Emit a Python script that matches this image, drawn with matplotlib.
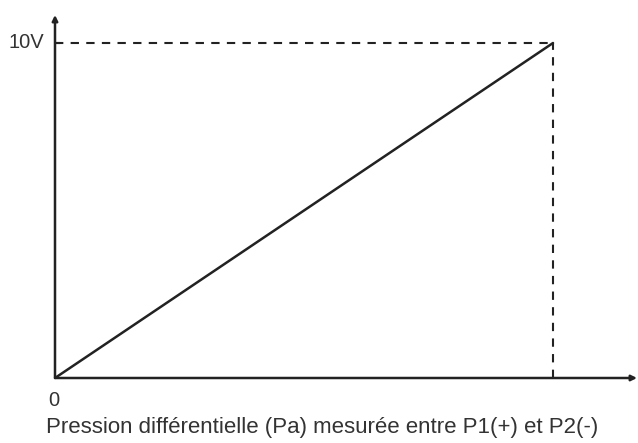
import matplotlib
matplotlib.use("Agg")
import matplotlib.pyplot as plt

# signal 0-10V proportional to the differential pressure
pressure = [0, 10]
voltage = [0, 10]
y_tick_label = "10V"
origin_label = "0"
x_label = "Pression différentielle (Pa) mesurée entre P1(+) et P2(-)"

plt.rcParams['font.family'] = ['Liberation Sans', 'DejaVu Sans']

fig = plt.figure(figsize=(6.38, 4.43), dpi=100)
# axes area in pixels: origin at (55, 378), arrows end at x=637, y=15
ax = fig.add_axes([55 / 638, (443 - 378) / 443, (637 - 55) / 638, (378 - 15) / 443])
x_max = 10 * (637 - 55) / (553 - 55)
y_max = 10 * (378 - 15) / (378 - 43)
ax.set_xlim(0, x_max)
ax.set_ylim(0, y_max)
ax.axis('off')

# axes with arrow heads
ax.annotate('', xy=(x_max, 0), xytext=(0, 0),
            arrowprops=dict(arrowstyle='-|>', color='#222222', lw=1.8,
                            mutation_scale=8, shrinkA=0, shrinkB=0),
            annotation_clip=False)
ax.annotate('', xy=(0, y_max), xytext=(0, 0),
            arrowprops=dict(arrowstyle='-|>', color='#222222', lw=1.8,
                            mutation_scale=8, shrinkA=0, shrinkB=0),
            annotation_clip=False)

# the linear response
ax.plot(pressure, voltage, color='#222222', lw=1.8, solid_capstyle='round')

# dashed guides to the full scale point
ax.plot([0, pressure[1]], [voltage[1], voltage[1]], color='#222222', lw=1.5,
        ls=(0, (4, 3.5)))
ax.plot([pressure[1], pressure[1]], [0, voltage[1]], color='#222222', lw=1.5,
        ls=(0, (4, 3.5)))

# small tick at 10V
ax.plot([0, 0.08], [voltage[1], voltage[1]], color='#222222', lw=1.5)

fig.text(26 / 638, 1 - 43 / 443, y_tick_label, ha='center', va='center',
         fontsize=14.5, color='#333333')
fig.text(54 / 638, 1 - 400 / 443, origin_label, ha='center', va='center',
         fontsize=14.5, color='#333333')
fig.text(322 / 638, 1 - 428 / 443, x_label, ha='center', va='center',
         fontsize=16, color='#333333')

fig.savefig('out.png', dpi=100)
